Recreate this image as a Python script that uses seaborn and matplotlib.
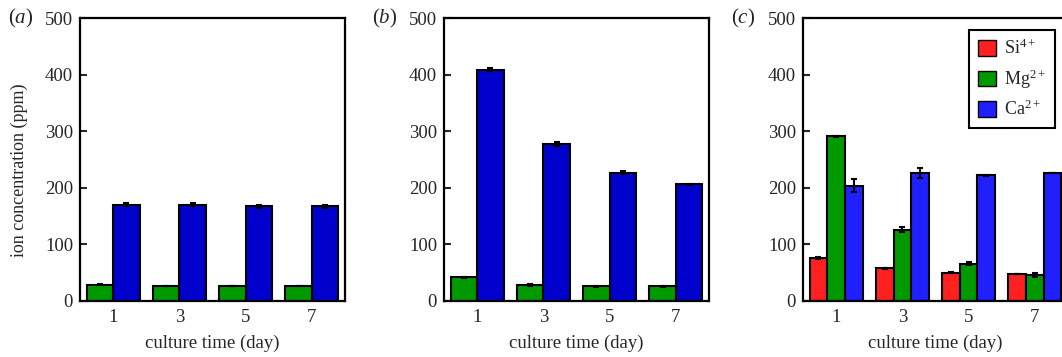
import numpy as np
import pandas as pd
import matplotlib
matplotlib.use("Agg")
import matplotlib.pyplot as plt
from matplotlib.patches import Patch
import seaborn as sns

# ---- data ----
days = ["1", "3", "5", "7"]

a_mg = [28, 26, 26, 26]
a_ca = [170, 170, 166.5, 166.5]
a_mg_err = [0.5, 0.5, 0.5, 0.5]
a_ca_err = [3, 2, 3, 3]

b_mg = [41, 28, 25, 25]
b_ca = [408.5, 277.5, 226, 205.5]
b_mg_err = [0.5, 1.5, 0.5, 0.5]
b_ca_err = [2.5, 3, 2.5, 1.5]

c_si = [75, 57, 49.5, 47.5]
c_mg = [290.5, 125.5, 65.5, 45.5]
c_ca = [203.5, 226.5, 221.5, 225]
c_si_err = [1.5, 1, 1, 0]
c_mg_err = [1, 4, 3, 3]
c_ca_err = [12, 9, 1.5, 0]

ion_labels = ["Si$^{4+}$", "Mg$^{2+}$", "Ca$^{2+}$"]
panel_labels = ["($\\mathit{a}$)", "($\\mathit{b}$)", "($\\mathit{c}$)"]
yticks = [0, 100, 200, 300, 400, 500]

sns.set_theme(style="white")
plt.rcParams["font.family"] = ["Liberation Serif", "DejaVu Serif"]
plt.rcParams["mathtext.fontset"] = "custom"
plt.rcParams["mathtext.rm"] = "Liberation Serif"
plt.rcParams["mathtext.it"] = "Liberation Serif:italic"
plt.rcParams["mathtext.default"] = "regular"


def make_df(series):
    rows = []
    for name, vals in series:
        for d, v in zip(days, vals):
            rows.append({"day": d, "ion": name, "value": v})
    return pd.DataFrame(rows)


W, H = 1062, 357
fig = plt.figure(figsize=(W / 100, H / 100), dpi=100)

ax_w = 265 / W
ax_h = 282.3 / H
ax_bottom = (H - 300.5) / H
lefts = [80 / W, 444 / W, 803 / W]

green = "#009900"
dark_blue = "#0000CC"
red = "#FF2020"
light_blue = "#2020FF"

panels = [
    ([("Mg", a_mg), ("Ca", a_ca)], [a_mg_err, a_ca_err], [green, dark_blue]),
    ([("Mg", b_mg), ("Ca", b_ca)], [b_mg_err, b_ca_err], [green, dark_blue]),
    ([("Si", c_si), ("Mg", c_mg), ("Ca", c_ca)], [c_si_err, c_mg_err, c_ca_err], [red, green, light_blue]),
]

TICK_FS = 13.5

for i, (series, errs, colors) in enumerate(panels):
    ax = fig.add_axes([lefts[i], ax_bottom, ax_w, ax_h])
    df = make_df(series)
    hue_order = [s[0] for s in series]
    sns.barplot(data=df, x="day", y="value", hue="ion", hue_order=hue_order,
                order=days, palette=colors, errorbar=None, width=0.8,
                edgecolor="black", linewidth=1.5, saturation=1, ax=ax,
                legend=False)
    for cont, err in zip(ax.containers, errs):
        xs = [p.get_x() + p.get_width() / 2 for p in cont.patches]
        ys = [p.get_height() for p in cont.patches]
        ax.errorbar(xs, ys, yerr=err, fmt="none", ecolor="black",
                    elinewidth=1.5, capsize=2.5, capthick=1.5, zorder=5)
    ax.set_xlim(-0.5, 3.5)
    ax.set_ylim(0, 500)
    ax.set_yticks(yticks)
    ax.tick_params(axis="y", direction="in", length=5, width=1.5,
                   labelsize=TICK_FS, pad=5, left=True, right=False)
    ax.tick_params(axis="x", length=0, labelsize=TICK_FS, pad=6)
    for sp in ax.spines.values():
        sp.set_linewidth(1.6)
        sp.set_color("black")
        sp.set_visible(True)
    ax.set_xlabel("culture time (day)", fontsize=13.5)
    ax.xaxis.set_label_coords(0.5, -0.12)
    if i == 0:
        ax.set_ylabel("ion concentration (ppm)", fontsize=13)
        ax.yaxis.set_label_coords(-0.196, 0.46)
    else:
        ax.set_ylabel("")
    ax.text(-0.272, 1.0, panel_labels[i], transform=ax.transAxes,
            ha="left", va="center", fontsize=15)
    if i == 2:
        handles = [Patch(facecolor=c, edgecolor="black", linewidth=1.0)
                   for c in colors]
        leg = ax.legend(handles, ion_labels, loc="upper right",
                        bbox_to_anchor=(0.951, 0.958), fontsize=13,
                        frameon=True, fancybox=False, edgecolor="black",
                        handlelength=1.0, handleheight=0.95,
                        labelspacing=0.5, handletextpad=0.45,
                        borderpad=0.5, borderaxespad=0.0)
        leg.get_frame().set_linewidth(1.5)
        leg.get_frame().set_alpha(1)

fig.savefig("out.png", dpi=100)
